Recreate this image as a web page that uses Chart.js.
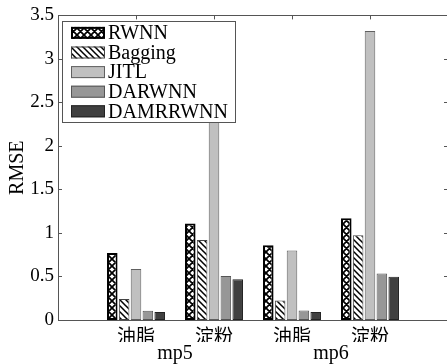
<!DOCTYPE html>
<html><head><meta charset="utf-8">
<script src="https://cdn.jsdelivr.net/npm/chart.js@4.4.1/dist/chart.umd.min.js"></script>
<style>html,body{margin:0;padding:0;overflow:hidden;background:#fff}</style>
</head><body>
<canvas id="c" width="456" height="364"></canvas>
<script>
const categories = ['油脂','淀粉','油脂','淀粉'];
const groups = ['mp5','mp6'];
const seriesNames = ['RWNN','Bagging','JITL','DARWNN','DAMRRWNN'];
const rwnn = [0.77, 1.11, 0.86, 1.17];
const bagging = [0.24, 0.92, 0.225, 0.975];
const jitl = [0.585, 2.9, 0.80, 3.32];
const darwnn = [0.107, 0.505, 0.11, 0.535];
const damrrwnn = [0.092, 0.467, 0.092, 0.497];
const yTicks = [0,0.5,1,1.5,2,2.5,3,3.5];

const canvas = document.getElementById('c');
const mainCtx = canvas.getContext('2d');
function makePattern(type){
  const s = type==='cross'?7:6;
  const c = document.createElement('canvas'); c.width=s; c.height=s;
  const g=c.getContext('2d');
  g.fillStyle='#fff'; g.fillRect(0,0,s,s);
  g.strokeStyle='#000'; g.lineWidth=type==='cross'?1.7:1.5;
  g.beginPath();
  g.moveTo(-1,-1); g.lineTo(s+1,s+1);
  g.moveTo(-1,s-1); g.lineTo(1,s+1);
  g.moveTo(s-1,-1); g.lineTo(s+1,1);
  if(type==='cross'){
    g.moveTo(s+1,-1); g.lineTo(-1,s+1);
    g.moveTo(1,-1); g.lineTo(-1,1);
    g.moveTo(s+1,s-1); g.lineTo(s-1,s+1);
  }
  g.stroke();
  return mainCtx.createPattern(c,'repeat');
}
const fills = [makePattern('cross'), makePattern('diag'), '#c0c0c0', '#979797', '#404040'];
const borders = ['#000', '#444', '#606060', '#555', '#222'];
const bws = [2, 1, 1, 1, 1];
const seriesValues = [rwnn, bagging, jitl, darwnn, damrrwnn];

const datasets = seriesNames.map((n,k)=>({
  label:n,
  data: seriesValues[k].map((v,i)=>({x:i+1,y:v})),
  backgroundColor: fills[k],
  borderColor: borders[k],
  borderWidth: bws[k],
  borderSkipped: false,
  categoryPercentage: 0.76,
  barPercentage: 0.89
}));

const serif = 'Liberation Serif, Times New Roman, serif';

const framePlugin = {
  id:'frame',
  beforeDatasetsDraw(chart){
    const {ctx, chartArea:a, scales:{x,y}} = chart;
    ctx.save();
    ctx.strokeStyle='#555'; ctx.lineWidth=1;
    ctx.strokeRect(Math.round(a.left)+0.5, Math.round(a.top)+0.5, Math.round(a.right-a.left), Math.round(a.bottom-a.top));
    ctx.beginPath();
    y.ticks.forEach(t=>{ const py=Math.round(y.getPixelForValue(t.value))+0.5;
      ctx.moveTo(a.left,py); ctx.lineTo(a.left+4,py); ctx.moveTo(a.right,py); ctx.lineTo(a.right-4,py);});
    x.ticks.forEach(t=>{ const px=Math.round(x.getPixelForValue(t.value))+0.5;
      ctx.moveTo(px,a.top); ctx.lineTo(px,a.top+4); ctx.moveTo(px,a.bottom); ctx.lineTo(px,a.bottom-4);});
    ctx.stroke();
    ctx.restore();
  },
  afterDatasetsDraw(chart){
    const {ctx, chartArea:a} = chart;
    ctx.save();
    const bx = Math.round(a.left)+4.5, by = Math.round(a.top)+6.5, bw = 173, bh = 101;
    ctx.fillStyle='#fff'; ctx.fillRect(bx,by,bw,bh);
    ctx.strokeStyle='#555'; ctx.lineWidth=1; ctx.strokeRect(bx,by,bw,bh);
    chart.data.datasets.forEach((ds,i)=>{
      const cy = a.top + 17.5 + i*19.6;
      const sx = a.left+13, sw = 34, sh = 12;
      ctx.fillStyle = ds.backgroundColor;
      ctx.fillRect(sx, cy-sh/2, sw, sh);
      ctx.strokeStyle = ds.borderColor; ctx.lineWidth = ds.borderWidth;
      const o = ds.borderWidth/2;
      ctx.strokeRect(sx+o, cy-sh/2+o, sw-2*o, sh-2*o);
      ctx.fillStyle='#000'; ctx.font='20px '+serif; ctx.textBaseline='middle'; ctx.textAlign='left';
      ctx.fillText(ds.label, a.left+50, cy+1);
    });
    ctx.restore();
  }
};

new Chart(canvas, {
  type:'bar',
  data:{datasets},
  options:{
    responsive:false, animation:false,
    layout:{padding:{left:0,right:8,top:15,bottom:0}},
    plugins:{legend:{display:false}, tooltip:{enabled:false}},
    scales:{
      x:{type:'linear', min:0, max:5, offset:false, position:'bottom', weight:0,
        afterBuildTicks: s=>{ s.ticks = categories.map((c,i)=>({value:i+1})); },
        afterFit: s=>{ s.height = 22; },
        grid:{display:false, drawTicks:false}, border:{display:false},
        ticks:{callback:(v)=>categories[v-1], padding:4, autoSkip:false, maxRotation:0,
          font:{family:'"Noto Sans CJK SC"', size:19}, color:'#000'}},
      x2:{type:'linear', min:0, max:5, offset:false, position:'bottom', weight:1,
        afterBuildTicks: s=>{ s.ticks = groups.map((g,i)=>({value:1.5+2*i})); },
        afterFit: s=>{ s.height = 22; },
        grid:{display:false, drawTicks:false}, border:{display:false},
        ticks:{callback:(v)=>groups[Math.round((v-1.5)/2)], padding:0, autoSkip:false, maxRotation:0,
          font:{family:serif, size:20}, color:'#000'}},
      y:{min:0, max:3.5,
        afterBuildTicks: s=>{ s.ticks = yTicks.map(v=>({value:v})); },
        afterFit: s=>{ s.width = 58; },
        grid:{display:false, drawTicks:false}, border:{display:false},
        ticks:{padding:4, font:{family:serif, size:19}, color:'#000', callback:(v)=>String(v)},
        title:{display:true, text:'RMSE', font:{family:serif, size:20}, color:'#000', padding:{top:6,bottom:0}}}
    }
  },
  plugins:[framePlugin]
});
</script>
</body></html>
